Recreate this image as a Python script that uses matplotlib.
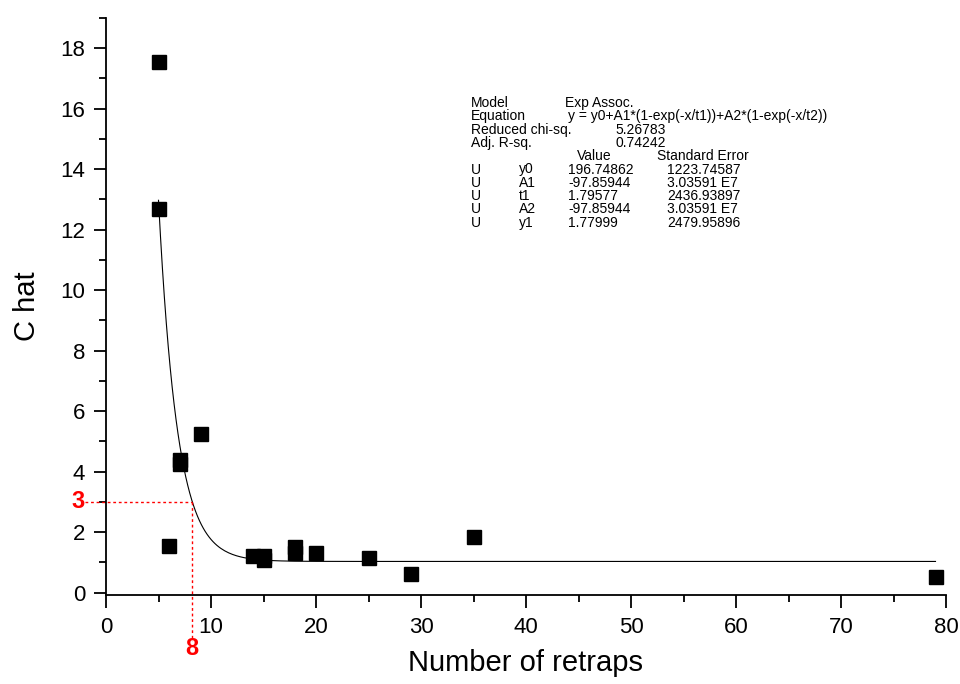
import numpy as np
import matplotlib.pyplot as plt
from matplotlib.ticker import MultipleLocator

plt.rcParams['font.family'] = ['Liberation Sans', 'DejaVu Sans']

# observed points
retraps = [5, 5, 6, 7, 7, 9, 14, 15, 15, 18, 18, 20, 25, 29, 35, 79]
c_hat = [17.55, 12.7, 1.55, 4.25, 4.38, 5.25, 1.2, 1.22, 1.08, 1.5, 1.3, 1.3, 1.15, 0.6, 1.85, 0.5]

# fitted Exp Assoc. parameters (from the fit report)
y0 = 196.74862
A1 = -97.85944
t1 = 1.79577
A2 = -97.85944
t2 = 1.77999

# fit report lines
header_rows = [("Model", "Exp Assoc."),
               ("Equation", "y = y0+A1*(1-exp(-x/t1))+A2*(1-exp(-x/t2))"),
               ("Reduced chi-sq.", "5.26783"),
               ("Adj. R-sq.", "0.74242")]
param_names = ["y0", "A1", "t1", "A2", "y1"]
param_values = ["196.74862", "-97.85944", "1.79577", "-97.85944", "1.77999"]
param_errors = ["1223.74587", "3.03591 E7", "2436.93897", "3.03591 E7", "2479.95896"]

fig = plt.figure(figsize=(9.6, 6.84), dpi=100)
ax = fig.add_axes([106 / 960, 1 - 595 / 684, 840 / 960, (595 - 18) / 684])

xfit = np.linspace(5, 79, 400)
yfit = y0 + A1 * (1 - np.exp(-xfit / t1)) + A2 * (1 - np.exp(-xfit / t2))
ax.plot(xfit, yfit, color='black', lw=0.8)
ax.plot(retraps, c_hat, 's', color='black', markersize=10, clip_on=False)

# red guide lines at C hat = 3
ax.plot([-2, 8.2], [3, 3], color='red', lw=1, ls=(0, (2, 2)), clip_on=False)
ax.plot([8.2, 8.2], [3, -1.6], color='red', lw=1, ls=(0, (2, 2)), clip_on=False)
ax.text(-2.7, 3, "3", color='red', fontsize=17, fontweight='bold', ha='center', va='center')
ax.text(8.2, -1.85, "8", color='red', fontsize=17, fontweight='bold', ha='center', va='center')

ax.set_xlim(0, 80)
ax.set_ylim(-0.08, 19)
ax.xaxis.set_major_locator(MultipleLocator(10))
ax.xaxis.set_minor_locator(MultipleLocator(5))
ax.yaxis.set_major_locator(MultipleLocator(2))
ax.yaxis.set_minor_locator(MultipleLocator(1))
ax.spines['top'].set_visible(False)
ax.spines['right'].set_visible(False)
for s in ['left', 'bottom']:
    ax.spines[s].set_linewidth(1.3)
ax.tick_params(which='major', direction='out', length=9, width=1.3, labelsize=16)
ax.tick_params(axis='x', which='major', pad=7)
ax.tick_params(axis='y', which='major', pad=6)
ax.tick_params(which='minor', direction='out', length=5, width=1.3)
ax.set_xlabel("Number of retraps", fontsize=21, labelpad=8)
ax.set_ylabel("C hat", fontsize=21, labelpad=14)

# fit report text
def put(px, py, s):
    fig.text(px / 960, 1 - py / 684, s, fontsize=10, ha='left', va='center')

row_y = 103
for label, val in header_rows:
    put(471, row_y, label)
    put(565 if label == "Model" else (568 if label == "Equation" else 615), row_y, val)
    row_y += 13.3
put(577, row_y, "Value")
put(657, row_y, "Standard Error")
row_y += 13.3
for name, val, err in zip(param_names, param_values, param_errors):
    put(471, row_y, "U")
    put(519, row_y, name)
    put(568, row_y, val)
    put(667, row_y, err)
    row_y += 13.3

fig.savefig("out.png", dpi=100)
